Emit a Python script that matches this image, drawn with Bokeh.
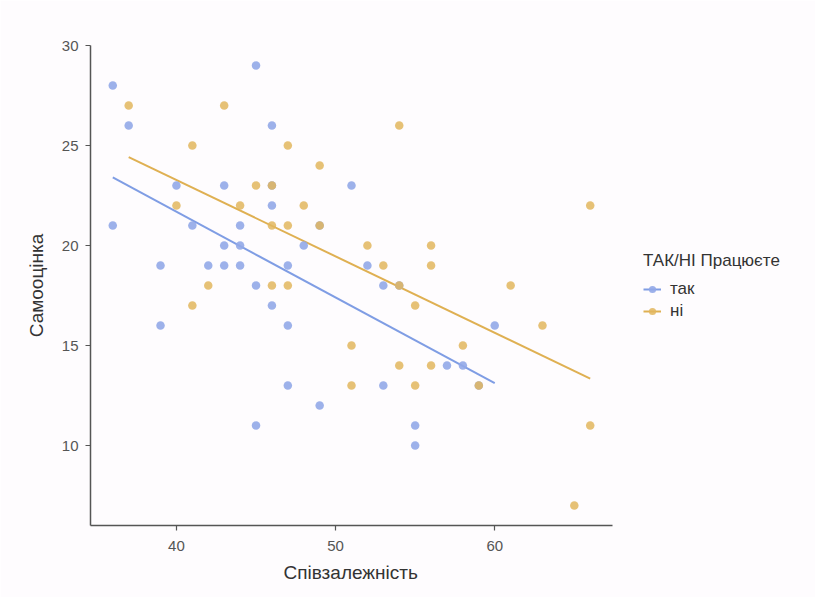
import numpy as np
from bokeh.plotting import figure
from bokeh.models import Legend, LegendItem, Range1d, FixedTicker, Title
from bokeh.embed import file_html
from bokeh.resources import INLINE

# так (yes) group
tak_x = [36, 36, 37, 39, 39, 40, 41, 42, 43, 43, 43, 44, 44, 44, 45, 45, 45, 46, 46, 46, 46,
         47, 47, 47, 48, 49, 49, 51, 52, 53, 53, 54, 55, 55, 57, 58, 59, 60]
tak_y = [28, 21, 26, 19, 16, 23, 21, 19, 23, 20, 19, 21, 20, 19, 29, 18, 11, 26, 22, 23, 17,
         19, 16, 13, 20, 21, 12, 23, 19, 18, 13, 18, 11, 10, 14, 14, 13, 16]
# ні (no) group
ni_x = [37, 40, 41, 41, 42, 43, 44, 45, 46, 46, 46, 47, 47, 47, 48, 49, 49, 51, 51, 52,
        53, 54, 54, 54, 55, 55, 56, 56, 56, 58, 59, 61, 63, 65, 66, 66]
ni_y = [27, 22, 25, 17, 18, 27, 22, 23, 23, 21, 18, 25, 21, 18, 22, 24, 21, 15, 13, 20,
        19, 26, 18, 14, 17, 13, 20, 19, 14, 15, 13, 18, 16, 7, 22, 11]

x_ticks = [40, 50, 60]
y_ticks = [10, 15, 20, 25, 30]

BLUE = "#92a9e8"
BLUE_LINE = "#7f9de4"
ORANGE = "#e2b65e"
ORANGE_LINE = "#dfb052"
BG = "#fefcfe"
FONT = "Liberation Sans"

X0, X1 = 34.6, 67.4
UNIT = 522 / (X1 - X0)  # pixels per x unit in the data area
FRAME_W = 725

p = figure(frame_width=FRAME_W, frame_height=480, output_backend="svg", toolbar_location=None,
           x_range=Range1d(X0, X0 + FRAME_W / UNIT), y_range=Range1d(6, 30),
           min_border_left=90, min_border_top=45, min_border_bottom=72, min_border_right=0,
           background_fill_color=BG, border_fill_color=BG, outline_line_color=None)
p.grid.visible = False

def fit(xs, ys):
    xs = np.array(xs, dtype=float); ys = np.array(ys, dtype=float)
    b, a = np.polyfit(xs, ys, 1)
    lx = np.array([xs.min(), xs.max()])
    return lx, a + b * lx

tx, ty = fit(tak_x, tak_y)
nx, ny = fit(ni_x, ni_y)

l1 = p.line(tx, ty, line_color=BLUE_LINE, line_width=2)
l2 = p.line(nx, ny, line_color=ORANGE_LINE, line_width=2)
s1 = p.scatter(tak_x, tak_y, size=8.5, fill_color=BLUE, line_color=None, fill_alpha=0.9)
s2 = p.scatter(ni_x, ni_y, size=8.5, fill_color=ORANGE, line_color=None, fill_alpha=0.85)

for ax in (p.xaxis, p.yaxis):
    ax.axis_line_color = "#555555"
    ax.axis_line_width = 1.5
    ax.major_tick_line_color = "#555555"
    ax.major_tick_line_width = 1.2
    ax.major_tick_out = 5
    ax.major_tick_in = 0
    ax.minor_tick_line_color = None
    ax.major_label_text_font = FONT
    ax.major_label_text_font_size = "15px"
    ax.major_label_text_color = "#555555"
    ax.axis_label_text_font = FONT
    ax.axis_label_text_font_size = "19px"
    ax.axis_label_text_font_style = "normal"
    ax.axis_label_text_color = "#333333"

p.xaxis.bounds = (X0, X1)
p.xaxis.ticker = FixedTicker(ticks=x_ticks)
p.yaxis.ticker = FixedTicker(ticks=y_ticks)
p.yaxis.axis_label = "Самооцінка"
p.xaxis.major_label_standoff = 10
p.yaxis.major_label_standoff = 7
p.yaxis.axis_label_standoff = 12

xlabel = Title(text="Співзалежність", align="left", offset=193, standoff=12,
               text_font=FONT, text_font_size="19px", text_font_style="normal",
               text_color="#333333")
p.add_layout(xlabel, "below")

legend = Legend(items=[LegendItem(label="так", renderers=[l1, s1]),
                       LegendItem(label="ні", renderers=[l2, s2])],
                title="ТАК/НІ Працюєте", location=(553, 204),
                background_fill_color=BG, background_fill_alpha=0, border_line_color=None,
                label_text_font=FONT, label_text_font_size="17px", label_text_color="#333333",
                title_text_font=FONT, title_text_font_size="17px", title_text_color="#333333",
                title_text_font_style="normal", title_standoff=8,
                glyph_width=18, glyph_height=18, spacing=2, label_standoff=9,
                margin=0, padding=0)
p.add_layout(legend, "center")

open("out.html", "w").write(file_html(p, INLINE))
